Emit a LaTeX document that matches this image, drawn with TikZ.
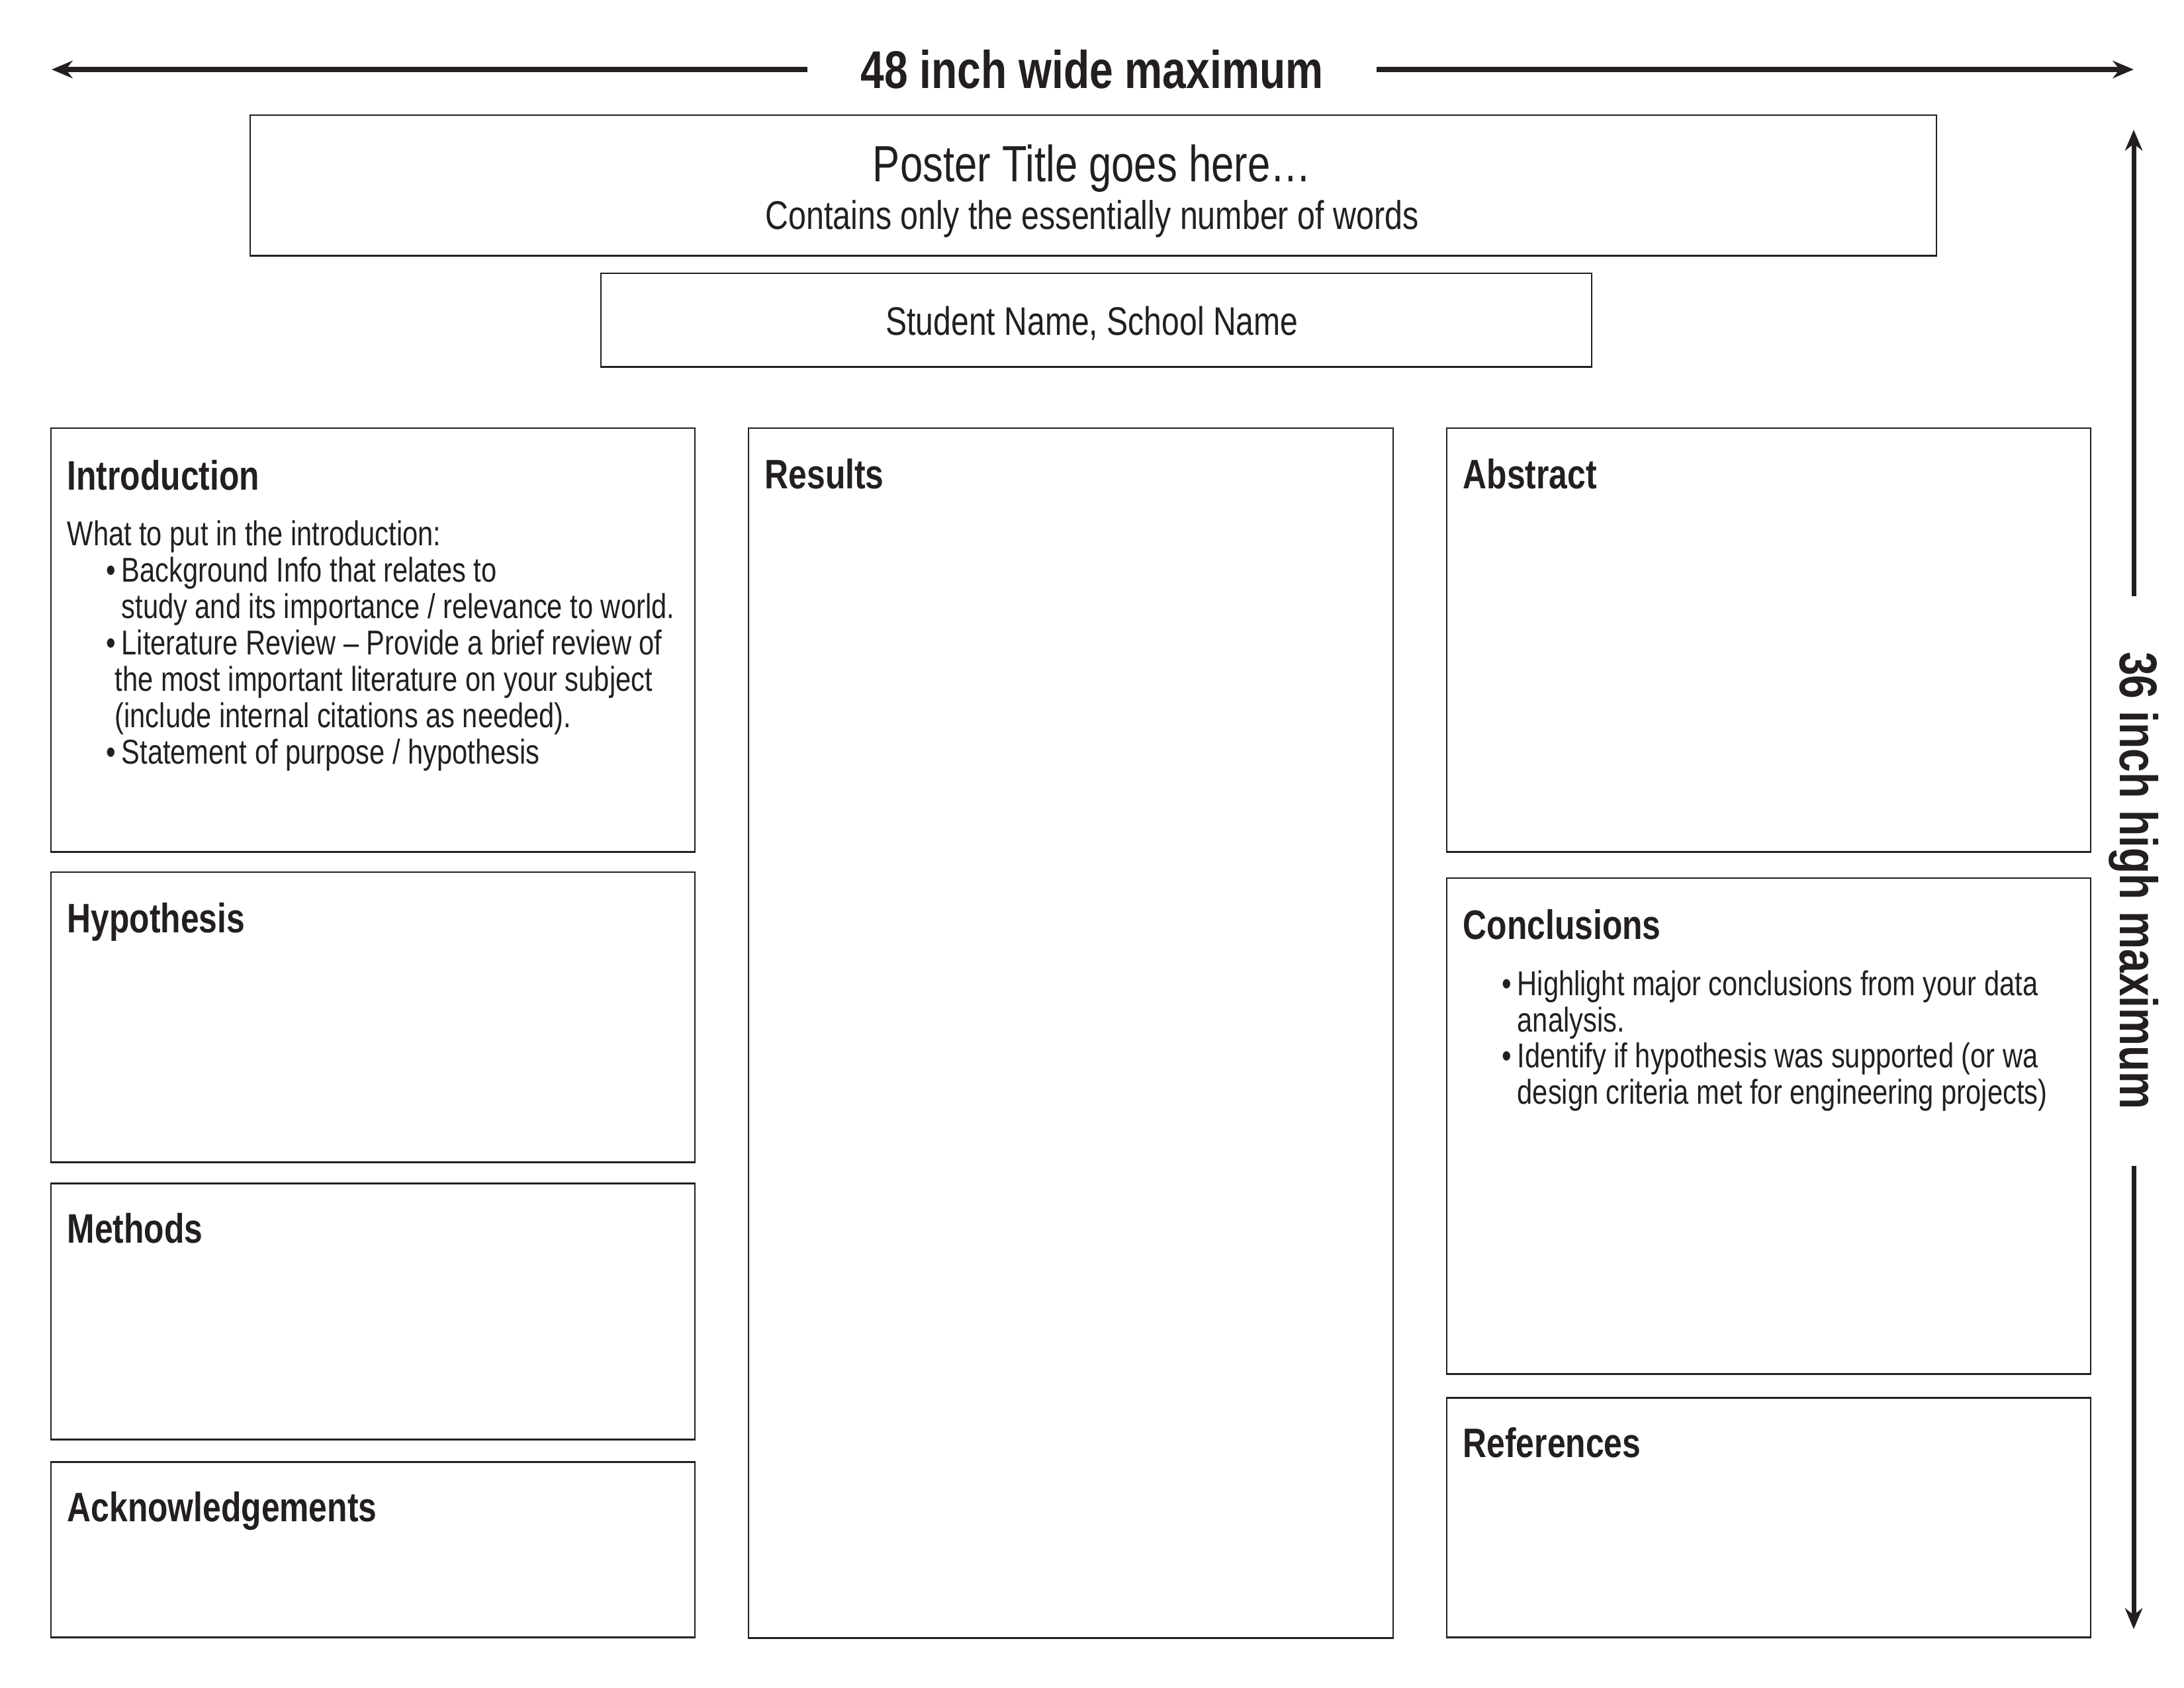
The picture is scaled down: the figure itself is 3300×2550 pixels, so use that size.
\documentclass[tikz,border=0pt]{standalone}
\usepackage{fontspec}
\setmainfont{Liberation Sans}[FakeStretch=0.8]
\usetikzlibrary{arrows.meta}
\definecolor{ink}{RGB}{35,31,32}
\begin{document}
\begin{tikzpicture}[x=0.01cm,y=-0.01cm,
  every node/.style={text=ink, inner sep=0pt},
  panel/.style={draw=ink, line width=0.7pt, anchor=north west, inner sep=0pt},
  head/.style={anchor=base west, font=\fontsize{17.7}{20}\selectfont\bfseries},
  body/.style={anchor=base west, font=\fontsize{14.8}{17}\selectfont},
  dimlabel/.style={font=\fontsize{22.8}{26}\selectfont\bfseries, inner ysep=0pt},
  dimarrow/.style={draw=ink, line width=2pt, -{Stealth[length=9pt,width=7.5pt]}}]
\useasboundingbox (0,0) rectangle (3300,2550);
\fill[white] (0,0) rectangle (3300,2550);

% dimension arrows
\node[dimlabel, inner xsep=0.8cm] (wlabel) at (1650,105) {48 inch wide maximum};
\coordinate (wl) at (78,105);
\coordinate (wr) at (3224,105);
\draw[dimarrow] (wlabel.west) -- (wl);
\draw[dimarrow] (wlabel.east) -- (wr);

\node[dimlabel, inner xsep=0.84cm, rotate=-90] (hlabel) at (3224,1331) {36 inch high maximum};
\coordinate (ht) at (3224,196);
\coordinate (hb) at (3224,2462);
\draw[dimarrow] (hlabel.west) -- (ht);
\draw[dimarrow] (hlabel.east) -- (hb);

% title boxes
\node[panel, minimum width=25.46cm, minimum height=2.12cm] (titlebox) at (377,173) {};
\node[font=\fontsize{21.9}{25}\selectfont, anchor=base] (title) at (1650,274) {Poster Title goes here…};
\node[font=\fontsize{17.2}{20}\selectfont, anchor=base] (subtitle) at (1650,346) {Contains only the essentially number of words};

\node[panel, minimum width=14.96cm, minimum height=1.41cm] (namebox) at (907,412) {};
\node[font=\fontsize{17.1}{20}\selectfont, anchor=base] (names) at (1650,506) {Student Name, School Name};

% left column
\node[panel, minimum width=9.72cm, minimum height=6.40cm] (intro) at (76,646) {};
\node[head] (introh) at (101,740) {Introduction};
\node[body] (i1) at (101,824) {What to put in the introduction:};
\node[body] (i2) at (160,879) {\makebox[0.23cm][l]{•}Background Info that relates to};
\node[body] (i3) at (183,934) {study and its importance / relevance to world.};
\node[body] (i4) at (160,989) {\makebox[0.23cm][l]{•}Literature Review – Provide a brief review of};
\node[body] (i5) at (173,1044) {the most important literature on your subject};
\node[body] (i6) at (173,1099) {(include internal citations as needed).};
\node[body] (i7) at (160,1154) {\makebox[0.23cm][l]{•}Statement of purpose / hypothesis};

\node[panel, minimum width=9.72cm, minimum height=4.38cm] (hypo) at (76,1317) {};
\node[head] (hypoh) at (101,1409) {Hypothesis};

\node[panel, minimum width=9.72cm, minimum height=3.87cm] (methods) at (76,1787) {};
\node[head] (methodsh) at (101,1878) {Methods};

\node[panel, minimum width=9.72cm, minimum height=2.65cm] (ack) at (76,2208) {};
\node[head] (ackh) at (101,2299) {Acknowledgements};

% middle column
\node[panel, minimum width=9.73cm, minimum height=18.27cm] (results) at (1130,646) {};
\node[head] (resultsh) at (1155,738) {Results};

% right column
\node[panel, minimum width=9.72cm, minimum height=6.40cm] (abstract) at (2185,646) {};
\node[head] (abstracth) at (2210,738) {Abstract};

\node[panel, minimum width=9.72cm, minimum height=7.49cm] (concl) at (2185,1326) {};
\node[head] (conclh) at (2210,1419) {Conclusions};
\node[body] (c1) at (2269,1504) {\makebox[0.23cm][l]{•}Highlight major conclusions from your data};
\node[body] (c2) at (2292,1559) {analysis.};
\node[body] (c3) at (2269,1613) {\makebox[0.23cm][l]{•}Identify if hypothesis was supported (or wa};
\node[body] (c4) at (2292,1668) {design criteria met for engineering projects)};

\node[panel, minimum width=9.72cm, minimum height=3.62cm] (refs) at (2185,2111) {};
\node[head] (refsh) at (2210,2202) {References};
\end{tikzpicture}
\end{document}
